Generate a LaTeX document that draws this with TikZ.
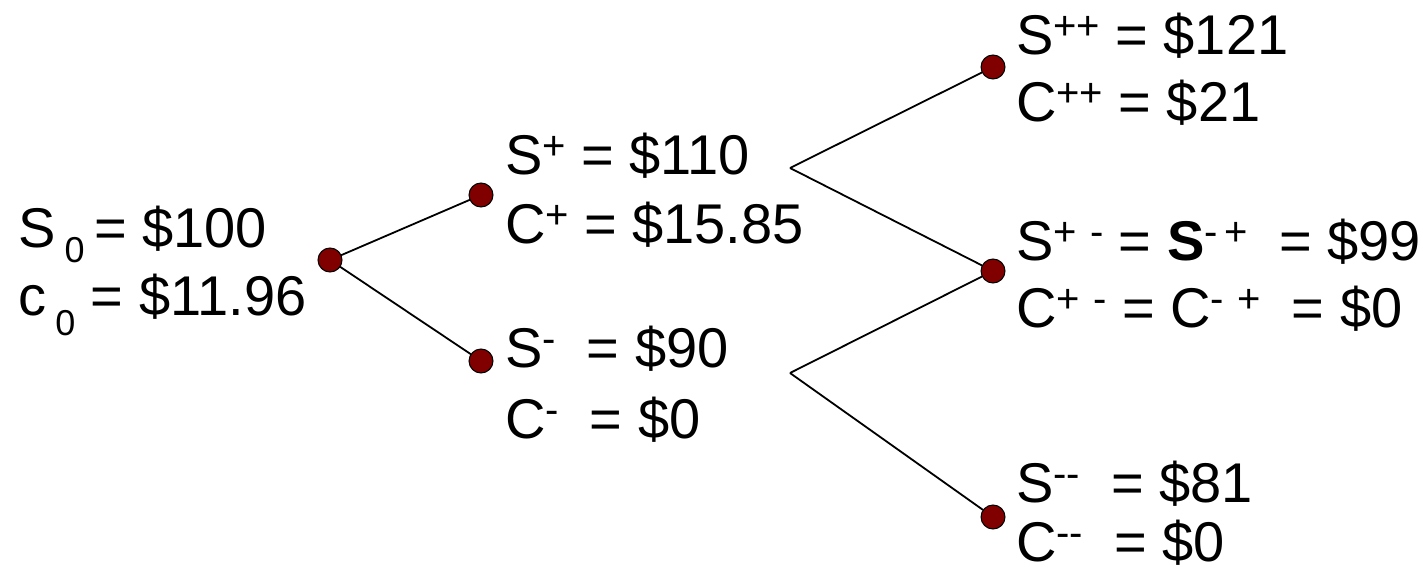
\documentclass[tikz,border=0pt]{standalone}
\usepackage{fontspec}
\setmainfont{Liberation Sans}
\usepackage{tikz}
\definecolor{dotred}{RGB}{128,0,0}
\newcommand{\supmark}[1]{\raisebox{15bp}{\fontsize{40bp}{40bp}\selectfont #1}}
\newcommand{\submark}[2]{\raisebox{-#1}{\fontsize{36bp}{36bp}\selectfont #2}}
\tikzset{
  lbl/.style={anchor=base west,inner sep=0pt,outer sep=0pt,font=\fontsize{56bp}{60bp}\selectfont},
  dot/.style={circle,fill=dotred,draw=black,line width=1bp,minimum size=24bp,inner sep=0pt},
  branch/.style={draw=black,line width=1.8bp}
}

\begin{document}
\begin{tikzpicture}[x=1bp,y=-1bp,inner sep=0pt,outer sep=0pt]
  \useasboundingbox (0,0) rectangle (1423,573);
  % dots
  \node[dot] (root) at (330,260) {};
  \node[dot] (up) at (481,195) {};
  \node[dot] (down) at (481,361) {};
  \node[dot] (upup) at (993,67) {};
  \node[dot] (updown) at (993,271) {};
  \node[dot] (downdown) at (993,517) {};
  \coordinate (upfork) at (790,168);
  \coordinate (downfork) at (790,373);
  % branches
  \draw[branch] (root) -- (up);
  \draw[branch] (root) -- (down);
  \draw[branch] (upfork) -- (upup);
  \draw[branch] (upfork) -- (updown);
  \draw[branch] (downfork) -- (updown);
  \draw[branch] (downfork) -- (downdown);
  % labels
  \node[lbl] (s0) at (18,247) {S\,\submark{15bp}{0}\,= \$100};
  \node[lbl] (c0) at (18,315) {c\,\submark{20bp}{0} = \$11.96};
  \node[lbl] (sup) at (505,175) {S\supmark{+} = \$110};
  \node[lbl] (cup) at (505,243) {C\supmark{+} = \$15.85};
  \node[lbl] (sdown) at (505,367) {S\supmark{-}\ \ = \$90};
  \node[lbl] (cdown) at (505,438) {C\supmark{-}\ \ = \$0};
  \node[lbl] (supup) at (1016,55) {S\supmark{++} = \$121};
  \node[lbl] (cupup) at (1016,122) {C\supmark{++} = \$21};
  \node[lbl] (supdown) at (1016,260) {S\supmark{+\,\,-} = \textbf{S}\supmark{-\,+}\ \ = \$99};
  \node[lbl] (cupdown) at (1016,327) {C\supmark{+\,\,-} = C\supmark{-\,\,+}\ \ = \$0};
  \node[lbl] (sdowndown) at (1016,502) {S\supmark{-{}-}\ \ = \$81};
  \node[lbl] (cdowndown) at (1016,561) {C\supmark{-{}-}\ \ = \$0};
\end{tikzpicture}
\end{document}
